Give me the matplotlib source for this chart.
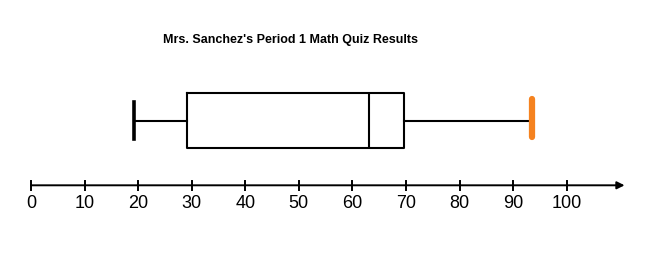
import matplotlib.pyplot as plt

# five-number summary
low = 19.2
q1 = 29.2
median = 63.1
q3 = 69.6
high = 93.5

tick_values = list(range(0, 101, 10))
title = "Mrs. Sanchez's Period 1 Math Quiz Results"

plt.rcParams['font.family'] = ['Liberation Sans', 'DejaVu Sans']

fig = plt.figure(figsize=(6.62, 2.54), dpi=100)
ax = fig.add_axes([0, 0, 1, 1])
px = 5.357  # pixels per point of score
ax.set_xlim(-31 / px, (662 - 31) / px)
ax.set_ylim(254, 0)
ax.axis("off")

stats = [dict(whislo=low, q1=q1, med=median, q3=q3, whishi=high)]
parts = ax.bxp(stats, positions=[120.5], widths=[55.6], vert=False,
               showfliers=False, capwidths=[37],
               boxprops=dict(color="black", linewidth=1.5),
               medianprops=dict(color="black", linewidth=1.5),
               whiskerprops=dict(color="black", linewidth=1.5),
               capprops=dict(color="black", linewidth=2.6))
left_cap, right_cap = parts["caps"]
right_cap.set_color("#f5821f")
right_cap.set_linewidth(4.5)
right_cap.set_solid_capstyle("round")
right_cap.set_ydata([99, 137])

# number line
ax.annotate("", xy=(110.8, 185.3), xytext=(0, 185.3),
            arrowprops=dict(arrowstyle="-|>", color="black", lw=1.4,
                            mutation_scale=11, shrinkA=0, shrinkB=0))
for t in tick_values:
    ax.plot([t, t], [180.5, 189.5], color="black", lw=1.4)
    ax.text(t, 203, str(t), ha="center", va="center", fontsize=13)

ax.text(48.4, 40, title, ha="center", va="center", fontsize=9,
        fontweight="bold")

fig.savefig("out.png", dpi=100, facecolor="white")
